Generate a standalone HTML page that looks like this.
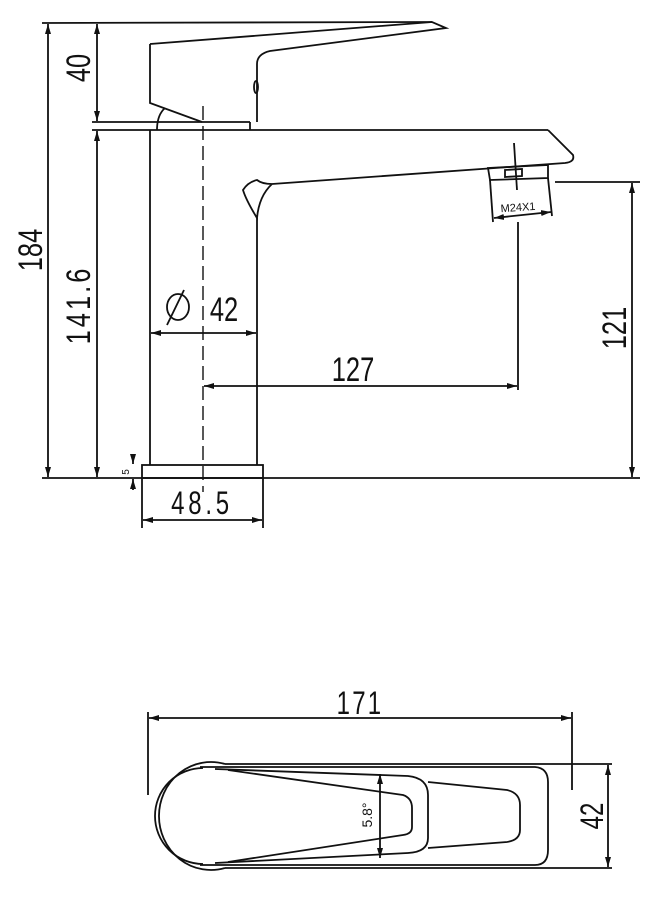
<!DOCTYPE html>
<html><head><meta charset="utf-8"><style>
html,body{margin:0;padding:0;background:#fff;}
svg{display:block;}
text{font-family:"Liberation Sans",sans-serif;fill:#111;}
</style></head><body>
<svg width="655" height="900" viewBox="0 0 655 900" xmlns="http://www.w3.org/2000/svg">
<defs>
<marker id="a" viewBox="0 0 10 6" refX="10" refY="3" markerWidth="10" markerHeight="6" orient="auto-start-reverse" markerUnits="userSpaceOnUse"><path d="M0,0 L10,3 L0,6z" fill="#111"/></marker>
</defs>
<g stroke="#111" stroke-width="1.8" fill="none">
<line x1="42" y1="23" x2="432" y2="22"/>
<line x1="92" y1="122" x2="250" y2="122"/>
<line x1="92" y1="130" x2="548" y2="130"/>
<line x1="42" y1="478" x2="640" y2="478"/>
<line x1="555" y1="182" x2="640" y2="182"/>
<line x1="48" y1="24" x2="48" y2="477" marker-start="url(#a)" marker-end="url(#a)"/>
<line x1="97" y1="24" x2="97" y2="121" marker-start="url(#a)" marker-end="url(#a)"/>
<line x1="97" y1="131" x2="97" y2="477" marker-start="url(#a)" marker-end="url(#a)"/>
<line x1="632" y1="183" x2="632" y2="477" marker-start="url(#a)" marker-end="url(#a)"/>
<line x1="151" y1="333" x2="256" y2="333" marker-start="url(#a)" marker-end="url(#a)"/>
<line x1="204" y1="386" x2="517" y2="386" marker-start="url(#a)" marker-end="url(#a)"/>
<line x1="518" y1="222" x2="518" y2="390"/>
<line x1="143" y1="520" x2="262" y2="520" marker-start="url(#a)" marker-end="url(#a)"/>
<line x1="142" y1="478" x2="142" y2="528"/>
<line x1="263" y1="478" x2="263" y2="528"/>
<line x1="133" y1="455" x2="133" y2="464" marker-end="url(#a)"/>
<line x1="133" y1="490" x2="133" y2="479" marker-end="url(#a)"/>
<line x1="167" y1="325" x2="184" y2="290"/>
<path d="M150,44 L432,22 L446,28 L270,51 Q257,54 257,64 L257,122"/>
<path d="M150,44 L150,103 L202,122"/>
<ellipse cx="256" cy="87" rx="2" ry="6"/>
<path d="M157,130 Q157,115 165,108"/>
<line x1="250" y1="122" x2="250" y2="130"/>
<line x1="150" y1="130" x2="150" y2="465"/>
<line x1="257" y1="218" x2="257" y2="465"/>
<rect x="142" y="465" width="121" height="13"/>
<path d="M548,130 L573,155 Q575,162 565,163 L272,184 Q262,184 257,180 Q248,182 243,190 Q246,200 257,218 Q259,196 272,184"/>
<path d="M488,168 L548,165 L548,178 L490,180 Z"/>
<path d="M505,170 L522,169 L522,176 L505,177 Z"/>
<line x1="514" y1="143" x2="517" y2="190"/>
<line x1="490" y1="180" x2="493" y2="222"/>
<line x1="548" y1="178" x2="552" y2="216"/>
<line x1="494" y1="218" x2="551" y2="212" marker-start="url(#a)" marker-end="url(#a)"/>
<line x1="203" y1="106" x2="203" y2="492" stroke-dasharray="14,6" stroke-width="1.4"/>
<line x1="148" y1="712" x2="148" y2="795"/>
<line x1="572" y1="712" x2="572" y2="790"/>
<line x1="149" y1="718" x2="571" y2="718" marker-start="url(#a)" marker-end="url(#a)"/>
<line x1="225" y1="764" x2="612" y2="764"/>
<line x1="225" y1="868" x2="612" y2="868"/>
<line x1="608" y1="765" x2="608" y2="867" marker-start="url(#a)" marker-end="url(#a)"/>
<path d="M225,764 A52,54 0 1 0 225,868"/>
<path d="M203,768 A48,48 0 1 0 203,864"/>
<path d="M200,767 L535,767 Q548,768 548,782 L548,850 Q548,865 535,865 L200,865"/>
<path d="M215,769 L408,776 Q428,778 428,795 L428,838 Q428,852 408,853 L215,863"/>
<path d="M228,770 L403,795 Q412,798 412,808 L412,827 Q412,834 403,835 L228,862"/>
<path d="M428,782 L507,790 Q520,793 520,805 L520,830 Q520,840 507,842 L428,848"/>
<line x1="380" y1="774" x2="380" y2="858" marker-start="url(#a)" marker-end="url(#a)"/>
</g>
<g>
<text transform="translate(42,250) rotate(-90) scale(0.75,1)" text-anchor="middle" font-size="34">184</text>
<text transform="translate(90,68) rotate(-90) scale(0.75,1)" text-anchor="middle" font-size="34">40</text>
<text transform="translate(90,305) rotate(-90) scale(0.75,1)" text-anchor="middle" font-size="34" letter-spacing="4">141.6</text>
<text transform="translate(626,328) rotate(-90) scale(0.75,1)" text-anchor="middle" font-size="34">121</text>
<text transform="translate(353,381) scale(0.75,1)" text-anchor="middle" font-size="34">127</text>
<text transform="translate(224,321) scale(0.75,1)" text-anchor="middle" font-size="34">42</text>
<ellipse cx="178" cy="307" rx="11" ry="13" fill="none" stroke="#111" stroke-width="1.8"/>
<text transform="translate(202,514) scale(0.75,1)" text-anchor="middle" font-size="32" letter-spacing="5">48.5</text>
<text transform="translate(129,472) rotate(-90)" text-anchor="middle" font-size="10">5</text>
<text x="518" y="211" text-anchor="middle" font-size="11" transform="rotate(-4 518 207)">M24X1</text>
<text transform="translate(360,714) scale(0.75,1)" text-anchor="middle" font-size="32" letter-spacing="3">171</text>
<text transform="translate(603,816) rotate(-90) scale(0.75,1)" text-anchor="middle" font-size="32">42</text>
<text transform="translate(372,815) rotate(-90)" text-anchor="middle" font-size="14">5.8°</text>
</g>
</svg>
</body></html>
